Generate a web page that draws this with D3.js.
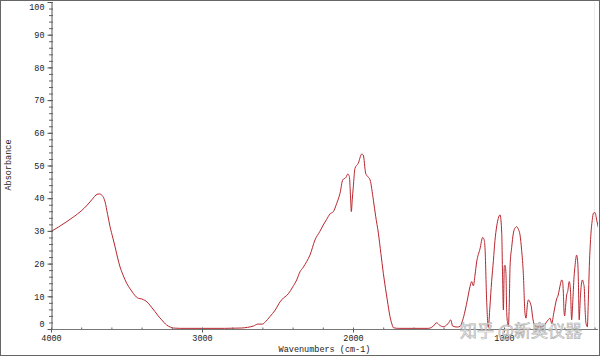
<!DOCTYPE html>
<html>
<head>
<meta charset="utf-8">
<script src="https://cdn.jsdelivr.net/npm/d3@7"></script>
<style>
  body { margin: 0; background: #fff; }
  svg { display: block; }
  text { font-family: "Liberation Mono", monospace; }
</style>
</head>
<body>
<svg id="chart" width="600" height="356"></svg>
<script>
// wavenumber (cm-1) and absorbance
const wavenumbers = [
  4000, 3950, 3900, 3850, 3800, 3760, 3730, 3710, 3695, 3680, 3665, 3652, 3642, 3625, 3609, 3590,
  3576, 3560, 3543, 3520, 3499, 3475, 3455, 3435, 3422, 3400, 3389, 3370, 3356, 3335, 3311, 3290,
  3267, 3250, 3234, 3210, 3190, 3150, 3000, 2850, 2740, 2700, 2660, 2630, 2600, 2580, 2550, 2515,
  2483, 2460, 2440, 2428, 2400, 2373, 2351, 2329, 2307, 2285, 2252, 2220, 2197, 2175, 2152, 2130,
  2108, 2086, 2068, 2046, 2035, 2024, 2016, 2011, 2005, 1998, 1987, 1965, 1942, 1932, 1916, 1900,
  1887, 1865, 1850, 1832, 1815, 1799, 1785, 1773, 1755, 1740, 1733, 1700, 1600, 1500, 1480, 1468,
  1446, 1428, 1402, 1380, 1365, 1353, 1340, 1310, 1291, 1275, 1258, 1240, 1225, 1214, 1203, 1192,
  1181, 1159, 1141, 1133, 1126, 1115, 1104, 1093, 1082, 1070, 1060, 1048, 1038, 1026, 1015, 1009,
  1004, 998, 993, 987, 982, 975, 971, 965, 960, 949, 938, 925, 916, 905, 894, 883,
  872, 861, 854, 845, 839, 828, 819, 810, 805, 795, 783, 750, 735, 717, 707, 695,
  684, 670, 651, 641, 634, 625, 618, 612, 606, 603, 598, 592, 585, 578, 568, 560,
  552, 545, 536, 530, 519, 512, 508, 502, 495, 488, 480, 474, 469, 462, 457, 448,
  442, 435, 424, 415, 408, 397, 386, 375
];
const absorbance = [
  29.8, 31.2, 32.7, 34.3, 36.1, 37.9, 39.5, 40.6, 41.2, 41.3, 41.0, 40.2, 38.9, 35.0, 31.3, 27.8,
  25.2, 22.0, 19.0, 16.2, 14.0, 12.2, 10.9, 9.8, 9.4, 9.2, 9.0, 8.5, 7.9, 6.7, 5.3, 4.0,
  2.8, 1.9, 1.2, 0.6, 0.3, 0.2, 0.2, 0.2, 0.3, 0.5, 0.9, 1.5, 1.5, 2.2, 3.8, 5.8,
  8.3, 9.5, 10.2, 10.8, 12.8, 15.0, 17.5, 18.9, 20.6, 22.6, 27.2, 29.8, 31.8, 33.5, 35.2, 35.9,
  38.4, 41.5, 45.6, 46.4, 47.4, 46.6, 40.0, 35.9, 39.5, 43.5, 49.1, 50.7, 53.5, 53.2, 47.6, 46.5,
  45.6, 39.4, 34.5, 29.3, 23.0, 17.0, 12.5, 8.9, 3.8, 1.2, 0.4, 0.2, 0.2, 0.2, 0.5, 0.9,
  1.9, 1.2, 0.7, 1.2, 2.0, 2.8, 0.9, 0.6, 0.8, 2.5, 5.5, 9.5, 13.0, 14.5, 13.2, 16.5,
  20.5, 24.5, 28.0, 27.5, 25.0, 8.9, 0.5, 7.0, 14.5, 21.0, 27.0, 31.5, 33.8, 34.9, 29.3, 15.0,
  5.8, 19.1, 19.5, 17.0, 5.0, 1.5, 0.7, 8.0, 19.1, 25.0, 29.3, 31.0, 31.3, 30.5, 28.8, 24.0,
  17.0, 4.8, 3.3, 7.5, 8.9, 8.2, 6.8, 3.5, 2.2, 1.0, 0.7, 0.7, 1.0, 2.2, 2.8, 3.3,
  1.7, 5.0, 9.2, 10.4, 12.0, 14.0, 15.0, 14.5, 10.0, 5.8, 4.0, 7.0, 10.4, 11.5, 14.5, 12.0,
  2.8, 8.0, 16.0, 19.1, 22.6, 20.5, 16.0, 2.8, 9.0, 13.5, 15.0, 14.0, 12.9, 5.0, 1.7, 0.7,
  8.0, 19.1, 29.3, 33.5, 35.4, 35.6, 33.3, 31.0
];
const xMajorTicks = [4000, 3000, 2000, 1000];
const yMajorTicks = [0, 10, 20, 30, 40, 50, 60, 70, 80, 90, 100];

const svg = d3.select("#chart");
const W = 600, H = 356;

const x = d3.scaleLinear().domain([4000, 400]).range([51, 594.6]);
const y = d3.scaleLinear().domain([0, 100]).range([329, 2]);

// outer frame
svg.append("rect")
  .attr("x", 0.5).attr("y", 0.5)
  .attr("width", W - 1).attr("height", H - 1)
  .attr("fill", "#fff").attr("stroke", "#666");

// faint right edge of plot area
svg.append("line")
  .attr("x1", 594.5).attr("x2", 594.5)
  .attr("y1", 2).attr("y2", 329)
  .attr("stroke", "#ececec");

svg.append("clipPath").attr("id", "plotclip")
  .append("rect").attr("x", 51).attr("y", 0).attr("width", 547).attr("height", 331);

const points = wavenumbers.map((w, i) => [w, absorbance[i]]);
const line = d3.line()
  .x(d => x(d[0]))
  .y(d => y(d[1]))
  .curve(d3.curveMonotoneX);

svg.append("path")
  .datum(points)
  .attr("clip-path", "url(#plotclip)")
  .attr("fill", "none")
  .attr("stroke", "#b8262e")
  .attr("stroke-width", 1)
  .attr("d", line);

// y axis
const minorY = d3.range(0, 101, 2);
svg.append("g")
  .attr("transform", "translate(53,0)")
  .call(d3.axisLeft(y).tickValues(minorY).tickSize(4).tickFormat(""))
  .call(g => g.select(".domain").remove())
  .selectAll("line").attr("stroke", "#666");

const gy = svg.append("g")
  .attr("transform", "translate(51.5,0)")
  .call(d3.axisLeft(y).tickValues(yMajorTicks).tickSize(4).tickPadding(3).tickSizeOuter(0));
gy.select(".domain").attr("stroke", "#555");
gy.selectAll("line").attr("stroke", "#555");
gy.selectAll("text")
  .attr("fill", "#222")
  .style("font-size", "8.5px")
  .style("font-family", "Liberation Mono, monospace")
  .attr("y", d => d === 100 ? 4.5 : d === 0 ? -5 : 0);

// x axis
const minorX = d3.range(4000, 399, -200);
svg.append("g")
  .attr("transform", "translate(0,329.5)")
  .call(d3.axisBottom(x).tickValues(minorX).tickSize(-2).tickFormat(""))
  .call(g => g.select(".domain").remove())
  .selectAll("line").attr("stroke", "#666");

const gx = svg.append("g")
  .attr("transform", "translate(0,329.5)")
  .call(d3.axisBottom(x).tickValues(xMajorTicks).tickSize(3).tickPadding(2).tickSizeOuter(0)
    .tickFormat(d3.format("d")));
gx.select(".domain").attr("stroke", "#777").attr("d", "M51,0H598");
gx.selectAll("line").attr("stroke", "#555");
gx.selectAll("text")
  .attr("fill", "#222")
  .style("font-size", "8.5px")
  .style("font-family", "Liberation Mono, monospace");

// axis titles
svg.append("text")
  .attr("x", 324.5).attr("y", 352)
  .attr("text-anchor", "middle")
  .attr("fill", "#222")
  .style("font-size", "8.5px")
  .text("Wavenumbers (cm-1)");

svg.append("text")
  .attr("transform", "translate(11,165) rotate(-90)")
  .attr("text-anchor", "middle")
  .attr("fill", "#222")
  .style("font-size", "8.5px")
  .text("Absorbance");

// watermark (overlaps the 1000 label, as in the original)
svg.append("text")
  .attr("x", 521).attr("y", 336.5)
  .attr("text-anchor", "middle")
  .attr("fill", "#fff")
  .attr("fill-opacity", 0.85)
  .attr("stroke", "#9a9a9a")
  .attr("stroke-width", 0.7)
  .attr("stroke-opacity", 0.8)
  .style("font-family", "Noto Sans CJK SC, sans-serif")
  .style("font-size", "17px")
  .text("知乎 @新奥仪器");
</script>
</body>
</html>
